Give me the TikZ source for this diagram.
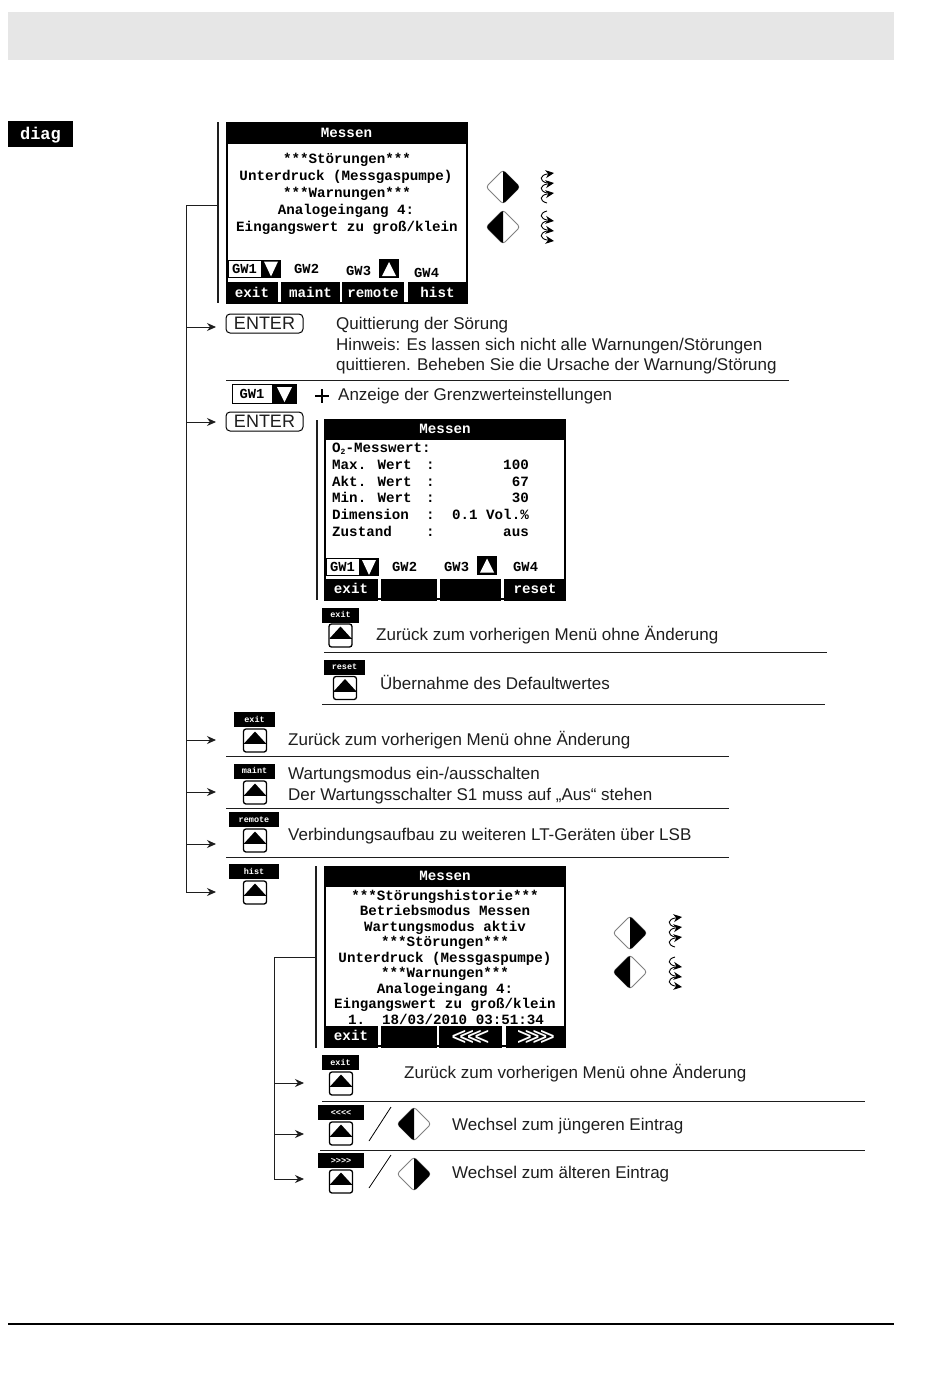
\documentclass[tikz,border=0pt]{standalone}
\usepackage{fontspec}
\setmainfont{Liberation Sans}
\newfontfamily\scrfont{Liberation Mono}[BoldFont={Liberation Mono Bold}]
\usetikzlibrary{arrows.meta,calc}
\definecolor{band}{HTML}{E6E6E6}
\definecolor{ink}{HTML}{1E1E1E}
\newcommand\lblf{\fontsize{17}{17}\selectfont\color{ink}}
\newcommand\scrf{\fontsize{14.2}{14}\scrfont\bfseries}
\newcommand\smallf{\fontsize{8.5}{8}\scrfont\bfseries\color{white}}
\newcommand\gwf{\fontsize{13.8}{13}\scrfont\bfseries}
\newcommand\chev[1]{\raisebox{-4.5pt}{\fontsize{26}{26}\normalfont\selectfont #1\kern-7.5pt#1\kern-7.5pt#1\kern-7.5pt#1}}
\tikzset{
 x=1pt,y=-1pt,
 lbl/.style={anchor=west,inner sep=0,text height=11.2pt,text depth=0pt,font=\lblf},
 scr/.style={inner sep=0,text height=8pt,text depth=0pt,font=\scrf},
 scrl/.style={scr,anchor=west},
 scrr/.style={scr,anchor=east},
 gw/.style={inner sep=0,anchor=west,text height=8pt,text depth=0pt,font=\gwf},
 frame/.style={draw=black,line width=2pt,fill=white,inner sep=0,minimum width=241pt},
 bar/.style={fill=black,inner sep=0,text=white,font=\scrf,text height=8pt,text depth=0pt},
 skey/.style={fill=black,inner sep=0,font=\smallf,text height=5.5pt,text depth=0pt},
 btn/.style={draw=black,line width=1.3pt,rounded corners=2.5pt,fill=white,minimum width=23pt,minimum height=23pt,inner sep=0},
 rule/.style={draw=ink,line width=1pt},
 vbar/.style={draw=ink,line width=1.2pt},
 conn/.style={draw=ink,line width=1pt},
 arr/.style={conn,-{Stealth[length=9pt,width=8pt]}},
 enterbox/.style={draw=black,line width=1pt,rounded corners=4pt,minimum width=77pt,minimum height=19pt,inner sep=0,font=\fontsize{18}{18}\selectfont\color{ink}},
}
\newcommand\softk[5]{\node[skey,minimum width=#4pt,minimum height=15pt] (#1) at (#2,#3) {#5};}
\newcommand\btnat[3]{\begin{scope}[shift={(#2,#3)}]
 \node[btn] (#1) at (0,0) {};
 \fill[black] (0,-9) -- (11,3) -- (-11,3) -- cycle;
 \draw[black,line width=1pt] (-11,3) -- (11,3);
\end{scope}}
\newcommand\diamondR[3]{\begin{scope}[shift={(#2,#3)}]
 \draw[gray,line width=.9pt,rounded corners=3pt] (-17,0) -- (0,-17) -- (17,0) -- (0,17) -- cycle;
 \begin{scope}\clip (0,-20) rectangle (20,20);
 \fill[black,rounded corners=3pt] (-17,0) -- (0,-17) -- (17,0) -- (0,17) -- cycle;\end{scope}
 \coordinate (#1) at (0,0);
\end{scope}}
\newcommand\diamondL[3]{\begin{scope}[shift={(#2,#3)}]
 \draw[gray,line width=.9pt,rounded corners=3pt] (-17,0) -- (0,-17) -- (17,0) -- (0,17) -- cycle;
 \begin{scope}\clip (0,-20) rectangle (-20,20);
 \fill[black,rounded corners=3pt] (-17,0) -- (0,-17) -- (17,0) -- (0,17) -- cycle;\end{scope}
 \coordinate (#1) at (0,0);
\end{scope}}
\newcommand\curls[3]{\begin{scope}[shift={(#1,#2)},yscale=#3,line width=.9pt,>={Stealth[length=8.5pt,width=8pt]}]
 \draw[->] (0,0) .. controls (-8,-2) and (-8,-8) .. (7,-10);
 \draw[->] (0,-10) .. controls (-8,-12) and (-8,-18) .. (7,-20);
 \draw[->] (0,-20) .. controls (-8,-22) and (-8,-28) .. (7,-30);
\end{scope}}
\newcommand\gwbox[3]{\begin{scope}[shift={(#2,#3)}]
 \node[draw=black,line width=1pt,fill=white,minimum width=33pt,minimum height=17pt,inner sep=0,font=\gwf] (#1) at (16.5,0) {GW1};
 \fill[black] (33,-9) rectangle (53,9);
 \fill[white] (36,-7) -- (50,-7) -- (43,8) -- cycle;
\end{scope}}
\newcommand\upbox[2]{\begin{scope}[shift={(#1,#2)}]
 \fill[black] (-10,-10) rectangle (10,9);
 \fill[white] (-7,7) -- (7,7) -- (0,-7) -- cycle;
\end{scope}}
\begin{document}
\begin{tikzpicture}
\useasboundingbox (0,0) rectangle (950,1379);
\fill[white] (0,0) rectangle (950,1379);
\node[fill=band,minimum width=886pt,minimum height=48pt,inner sep=0] (head) at (451,36) {};
\draw[black,line width=2pt] (8,1324) -- (894,1324);
\node[fill=black,text=white,minimum width=65pt,minimum height=26pt,inner sep=0,font=\fontsize{17}{17}\scrfont\bfseries,text height=10pt,text depth=0pt] (diag) at (40.5,134) {diag};

% trunk 1
\coordinate (tr0) at (186,205); \coordinate (tr1) at (186,327); \coordinate (tr2) at (186,422);
\coordinate (tr3) at (186,740); \coordinate (tr4) at (186,792); \coordinate (tr5) at (186,844); \coordinate (tr6) at (186,892);
\coordinate (ar1) at (216,327); \coordinate (ar2) at (216,422); \coordinate (ar3) at (216,740);
\coordinate (ar4) at (216,792); \coordinate (ar5) at (216,844); \coordinate (ar6) at (216,892);
\coordinate (v1t) at (218,122); \coordinate (v1b) at (218,303); \coordinate (v1m) at (218,205);
\draw[vbar] (v1t) -- (v1b);
\draw[conn] (v1m) -- (tr0) -- (tr6);
\draw[arr] (tr1) -- (ar1); \draw[arr] (tr2) -- (ar2); \draw[arr] (tr3) -- (ar3);
\draw[arr] (tr4) -- (ar4); \draw[arr] (tr5) -- (ar5); \draw[arr] (tr6) -- (ar6);

% screen 1
\node[frame,minimum width=240pt,minimum height=180pt] (s1) at (346.5,213) {};
\node[bar,minimum width=242pt,minimum height=22pt] (s1t) at (346.5,133) {Messen};
\node[scr] (a1) at (347,159) {***Störungen***};
\node[scr] (a2) at (346,176) {Unterdruck (Messgaspumpe)};
\node[scr] (a3) at (347,193) {***Warnungen***};
\node[scr] (a4) at (346,210) {Analogeingang 4:};
\node[scr] (a5) at (347,227) {Eingangswert zu groß/klein};
\gwbox{g1}{228}{268.5}
\node[gw] (g2) at (294,269) {GW2};
\node[gw] (g3) at (346,271) {GW3};
\upbox{389}{269}
\node[gw] (g4) at (414,273) {GW4};
\node[bar,minimum width=52pt,minimum height=22pt] (k1) at (252,293) {exit};
\node[bar,minimum width=59pt,minimum height=22pt] (k2) at (310.5,293) {maint};
\node[bar,minimum width=62pt,minimum height=22pt] (k3) at (373,293) {remote};
\node[bar,minimum width=60pt,minimum height=22pt] (k4) at (437.5,293) {hist};
\diamondR{d1}{503}{187}
\diamondL{d2}{503}{227}
\curls{547}{203}{1}
\curls{547}{211}{-1}

% enter
\node[enterbox] (en1) at (264.5,323.5) {ENTER};
\node[lbl] (l1) at (336,324) {Quittierung der Sörung};
\node[lbl] (l2) at (336,345) {Hinweis: Es lassen sich nicht alle Warnungen/Störungen};
\node[lbl] (l3) at (336,365) {quittieren. Beheben Sie die Ursache der Warnung/Störung};
\draw[rule] (226,380) -- (789,380);
\begin{scope}[shift={(232,394)}]
 \node[draw=black,line width=1pt,fill=white,minimum width=40pt,minimum height=19pt,inner sep=0,font=\gwf] (g5) at (20,0) {GW1};
 \fill[black] (40,-10) rectangle (65,10);
 \fill[white] (45,-7) -- (60,-7) -- (52.5,8) -- cycle;
\end{scope}
\begin{scope}[shift={(322,396)}]\draw[black,line width=2pt] (-7,0) -- (7,0) (0,-7) -- (0,7);\end{scope}
\node[lbl] (l4) at (338,395) {Anzeige der Grenzwerteinstellungen};
\node[enterbox] (en2) at (264.5,421.5) {ENTER};

% screen 2
\draw[vbar] (317,420) -- (317,600);
\node[frame,minimum width=240pt,minimum height=179pt] (s2) at (445,509.5) {};
\node[bar,minimum width=242pt,minimum height=21pt] (s2t) at (445,429.5) {Messen};
\node[scrl] (b1) at (332,448) {O\raisebox{-2pt}{\fontsize{8}{8}\selectfont 2}-Messwert:};
\node[scrl] (b2) at (332,465) {Max. Wert}; \node[scrl] (b3) at (332,482) {Akt. Wert};
\node[scrl] (b4) at (332,498) {Min. Wert}; \node[scrl] (b5) at (332,515) {Dimension};
\node[scrl] (b6) at (332,532) {Zustand};
\node[scrl] (c2) at (426,465) {:}; \node[scrl] (c3) at (426,482) {:}; \node[scrl] (c4) at (426,498) {:};
\node[scrl] (c5) at (426,515) {:}; \node[scrl] (c6) at (426,532) {:};
\node[scrr] (e2) at (529,465) {100}; \node[scrr] (e3) at (529,482) {67}; \node[scrr] (e4) at (529,498) {30};
\node[scrr] (e5) at (529,515) {0.1 Vol.\%}; \node[scrr] (e6) at (529,532) {aus};
\gwbox{g6}{326}{567}
\node[gw] (g7) at (392,567.5) {GW2};
\node[gw] (g8) at (444,567.5) {GW3};
\upbox{487}{565.5}
\node[gw] (g9) at (513,567.5) {GW4};
\node[bar,minimum width=54pt,minimum height=22pt] (m1) at (351,589.5) {exit};
\node[bar,minimum width=56pt,minimum height=22pt] (m2) at (409,589.5) {};
\node[bar,minimum width=61pt,minimum height=22pt] (m3) at (470.5,589.5) {};
\node[bar,minimum width=62pt,minimum height=22pt] (m4) at (535,589.5) {reset};

\softk{x1}{340.5}{615}{37}{exit}
\btnat{y1}{340.5}{635.5}
\node[lbl] (l5) at (376,635) {Zurück zum vorherigen Menü ohne Änderung};
\draw[rule] (324,652) -- (827,652);
\softk{x2}{344.5}{667}{41}{reset}
\btnat{y2}{345}{688}
\node[lbl] (l6) at (380,684) {Übernahme des Defaultwertes};
\draw[rule,line width=.7pt] (322,704) -- (825,704);

\softk{x3}{254.5}{719.5}{41}{exit}
\btnat{y3}{255}{740.5}
\node[lbl] (l7) at (288,740) {Zurück zum vorherigen Menü ohne Änderung};
\draw[rule] (226,756) -- (729,756);
\softk{x4}{254.5}{771}{41}{maint}
\btnat{y4}{255}{792.5}
\node[lbl] (l8) at (288,774) {Wartungsmodus ein-/ausschalten};
\node[lbl] (l9) at (288,795) {Der Wartungsschalter S1 muss auf „Aus“ stehen};
\draw[rule] (226,808) -- (729,808);
\softk{x5}{254}{819.5}{50}{remote}
\btnat{y5}{255}{840.5}
\node[lbl] (l10) at (288,835) {Verbindungsaufbau zu weiteren LT-Geräten über LSB};
\draw[rule] (226,857) -- (729,857);
\softk{x6}{254}{871.5}{50}{hist}
\btnat{y6}{255}{892.5}

% screen 3
\draw[vbar] (316,866) -- (316,1048);
\node[frame,minimum width=240pt,minimum height=179pt] (s3) at (445,956.5) {};
\node[bar,minimum width=242pt,minimum height=21pt] (s3t) at (445,876.5) {Messen};
\node[scr] (f1) at (445,896) {***Störungshistorie***};
\node[scr] (f2) at (445,911) {Betriebsmodus Messen};
\node[scr] (f3) at (445,927) {Wartungsmodus aktiv};
\node[scr] (f4) at (445,942) {***Störungen***};
\node[scr] (f5) at (445,958) {Unterdruck (Messgaspumpe)};
\node[scr] (f6) at (445,973) {***Warnungen***};
\node[scr] (f7) at (445,989) {Analogeingang 4:};
\node[scr] (f8) at (445,1004) {Eingangswert zu groß/klein};
\node[scr] (f9) at (446,1020) {1.\hspace{17pt}18/03/2010 03:51:34};
\node[bar,minimum width=54pt,minimum height=22pt] (n1) at (351,1036.5) {exit};
\node[bar,minimum width=56pt,minimum height=22pt] (n2) at (409,1036.5) {};
\node[bar,minimum width=63pt,minimum height=22pt] (n3) at (470.5,1036.5) {\chev{<}};
\node[bar,minimum width=60pt,minimum height=22pt] (n4) at (536,1036.5) {\chev{>}};
\diamondR{d3}{630}{933}
\diamondL{d4}{630}{972}
\curls{675}{947}{1}
\curls{675}{957}{-1}

% trunk 2
\coordinate (ur0) at (274,957); \coordinate (v3m) at (316,957);
\coordinate (ur1) at (274,1083); \coordinate (ur2) at (274,1134); \coordinate (ur3) at (274,1179);
\coordinate (br1) at (304,1083); \coordinate (br2) at (304,1134); \coordinate (br3) at (304,1179);
\draw[conn] (v3m) -- (ur0) -- (ur3);
\draw[arr] (ur1) -- (br1); \draw[arr] (ur2) -- (br2); \draw[arr] (ur3) -- (br3);

\softk{x7}{340.5}{1062.5}{37}{exit}
\btnat{y7}{341}{1083.5}
\node[lbl] (l11) at (404,1073) {Zurück zum vorherigen Menü ohne Änderung};
\draw[rule] (322,1101) -- (865,1101);
\softk{x8}{341}{1112.5}{46}{<<<<}
\btnat{y8}{341}{1133.5}
\coordinate (s8a) at (369,1141); \coordinate (s8b) at (391,1107);
\draw[black,line width=.8pt] (s8a) -- (s8b);
\diamondL{d5}{414}{1124}
\node[lbl] (l12) at (452,1125) {Wechsel zum jüngeren Eintrag};
\draw[rule] (320,1150) -- (865,1150);
\softk{x9}{341}{1160.5}{46}{>>>>}
\btnat{y9}{341}{1181.5}
\coordinate (s9a) at (369,1188); \coordinate (s9b) at (391,1155);
\draw[black,line width=.8pt] (s9a) -- (s9b);
\diamondR{d6}{414}{1174}
\node[lbl] (l13) at (452,1173) {Wechsel zum älteren Eintrag};
\end{tikzpicture}
\end{document}
